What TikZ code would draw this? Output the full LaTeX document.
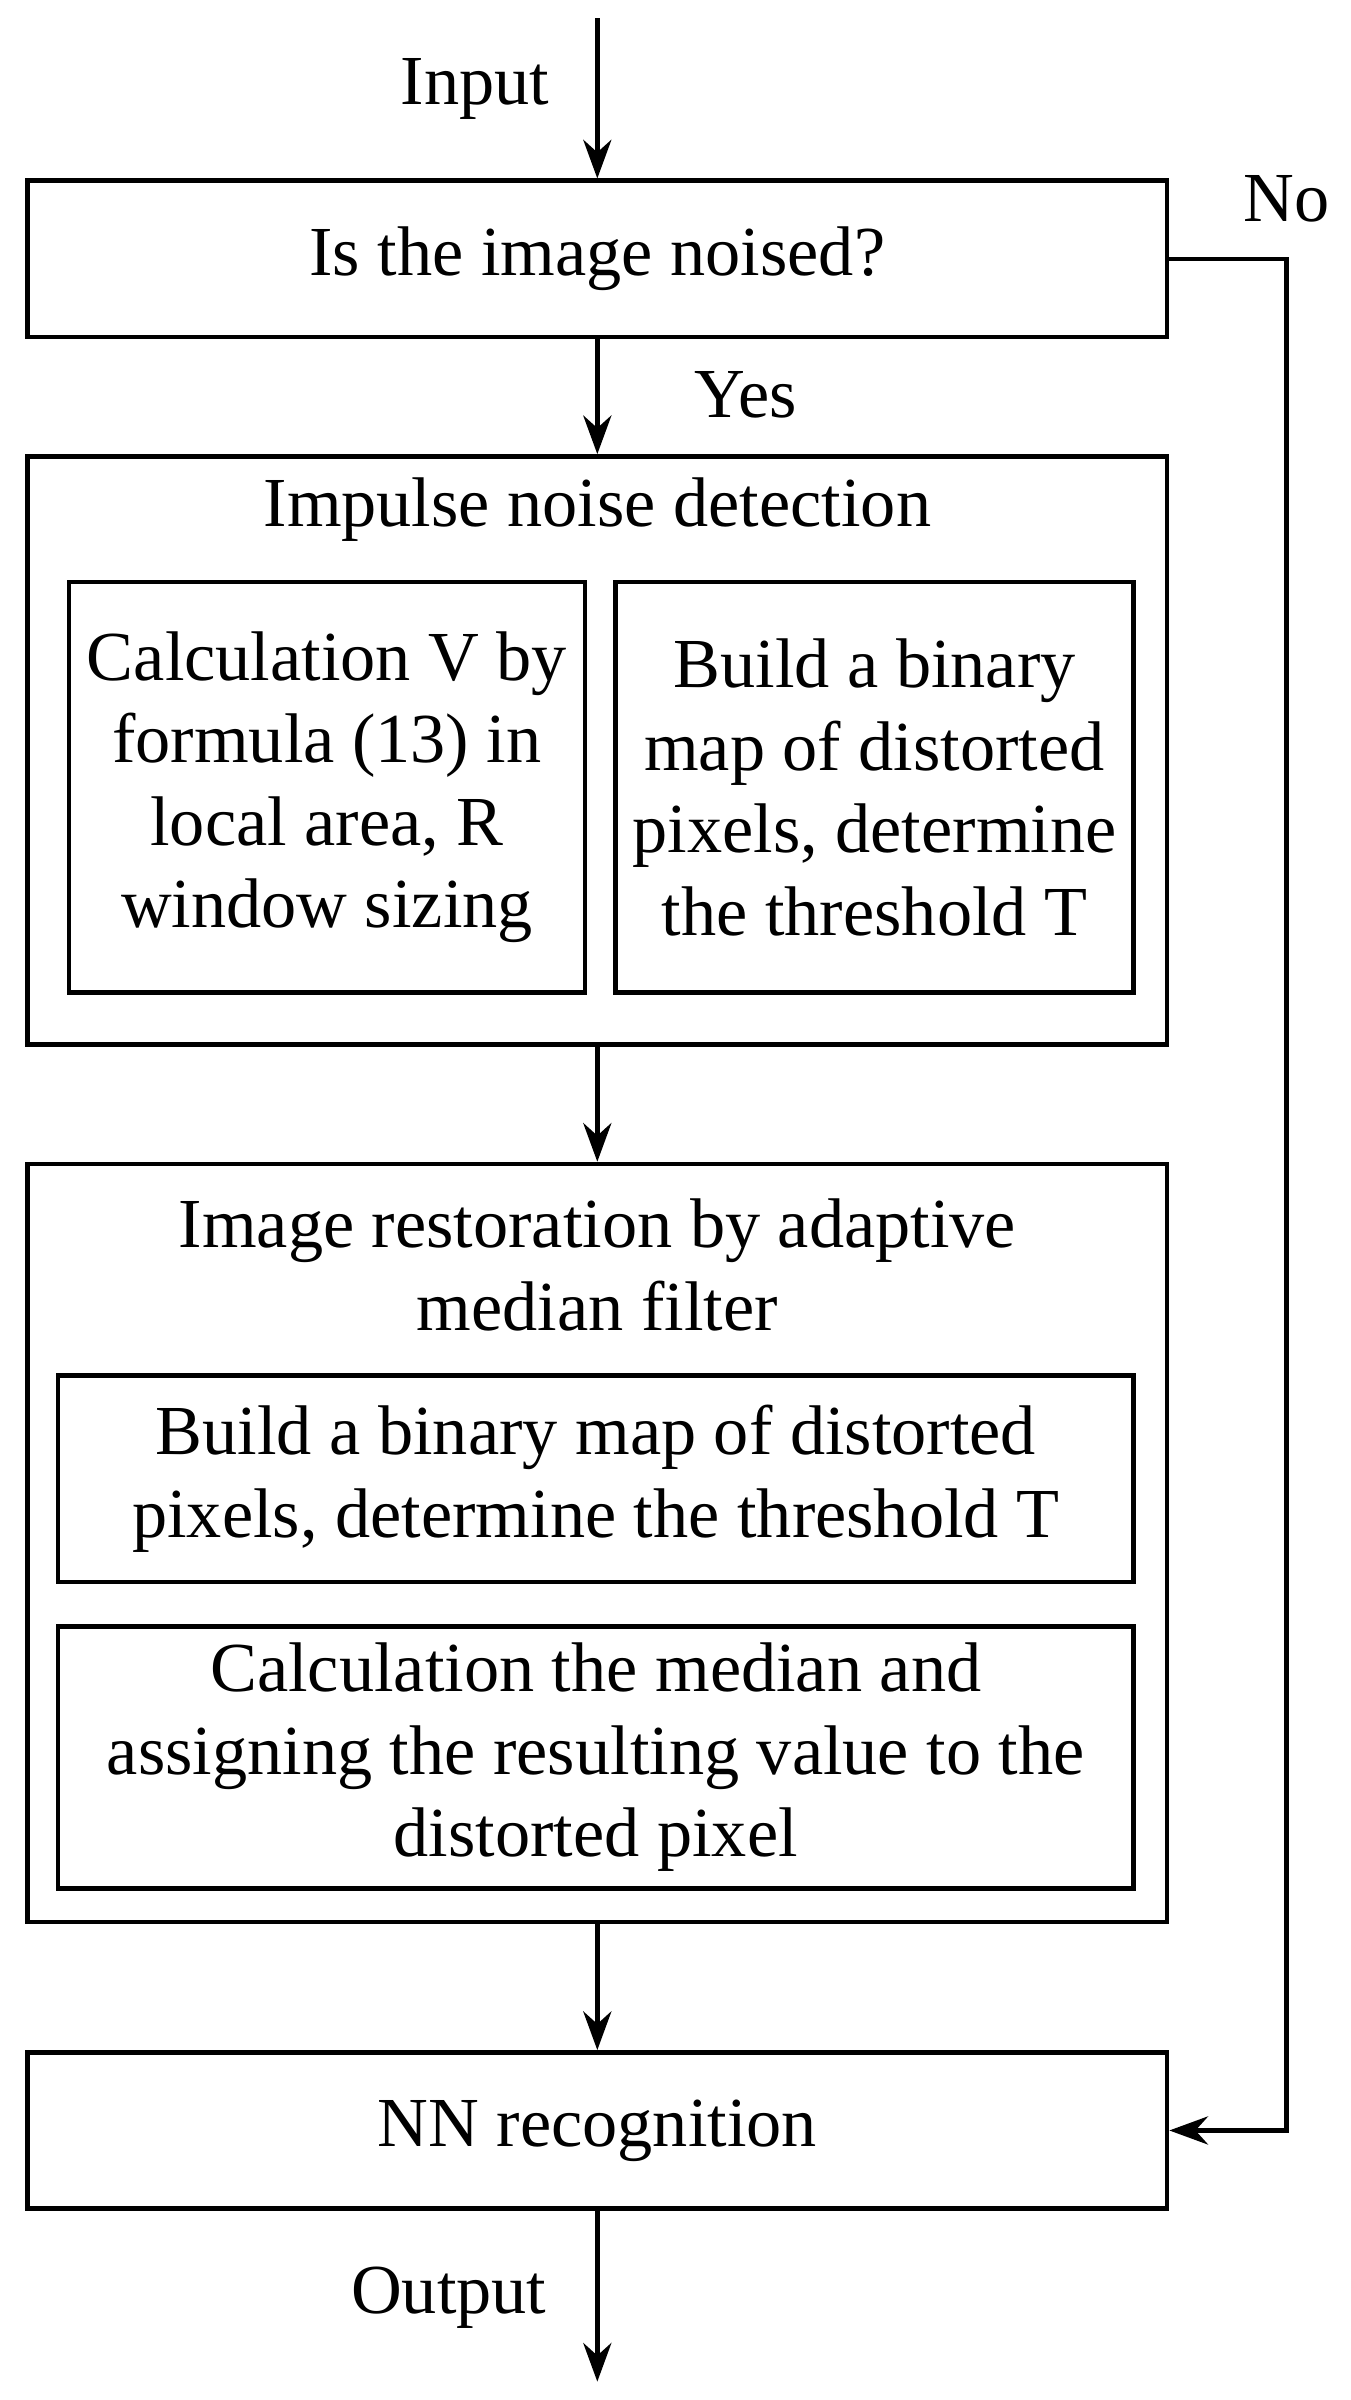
\documentclass[tikz,border=0pt]{standalone}
\usepackage{fontspec}
\setmainfont{Liberation Serif}
\usetikzlibrary{arrows.meta}
\tikzset{
  box/.style={draw, line width=1.3pt, inner sep=0pt},
  txt/.style={font=\fontsize{20pt}{23.5pt}\selectfont, align=center},
  flow/.style={-{Stealth[length=11pt,width=8pt]}, line width=1.3pt}
}
\begin{document}
\begin{tikzpicture}[x=0.01532cm, y=-0.01532cm]
  \useasboundingbox (0,0) rectangle (882,1567);
  % boxes
  \node[box, minimum width=744*0.01532cm, minimum height=102*0.01532cm] (noised) at (390,169) {};
  \node[txt] at (noised) {Is the image noised?};
  \node[box, minimum width=744*0.01532cm, minimum height=384*0.01532cm] (detect) at (390,490) {};
  \node[txt] (detectT) at (390,333) {Impulse noise detection};
  \node[box, minimum width=337*0.01532cm, minimum height=268*0.01532cm] (calcV) at (213.5,514) {};
  \node[txt] at (calcV) {Calculation V by\\formula (13) in\\local area, R\\window sizing};
  \node[box, minimum width=338*0.01532cm, minimum height=268*0.01532cm] (mapA) at (571,514) {};
  \node[txt] at (mapA) {Build a binary\\map of distorted\\pixels, determine\\the threshold T};
  \node[box, minimum width=744*0.01532cm, minimum height=495*0.01532cm] (restore) at (390,1007.5) {};
  \node[txt] (restoreT) at (390,826) {Image restoration by adaptive\\median filter};
  \node[box, minimum width=702*0.01532cm, minimum height=135*0.01532cm] (mapB) at (389,965.5) {};
  \node[txt] at (mapB) {Build a binary map of distorted\\pixels, determine the threshold T};
  \node[box, minimum width=702*0.01532cm, minimum height=171*0.01532cm] (median) at (389,1147.5) {};
  \node[txt] at (median) {Calculation the median and\\assigning the resulting value to the\\distorted pixel};
  \node[box, minimum width=744*0.01532cm, minimum height=102*0.01532cm] (nn) at (390,1391) {};
  \node[txt] at (nn) {NN recognition};
  % labels
  \coordinate (in) at (390,12);
  \coordinate (out) at (390,1555);
  \coordinate (turnA) at (840,169);
  \coordinate (turnB) at (840,1391);
  \node[txt] at (310,58) {Input};
  \node[txt] at (487,258) {Yes};
  \node[txt] at (840,130) {No};
  \node[txt] at (293,1500) {Output};
  % connectors
  \draw[flow] (in) -- (noised.north);
  \draw[flow] (noised.south) -- (detect.north);
  \draw[flow] (detect.south) -- (restore.north);
  \draw[flow] (restore.south) -- (nn.north);
  \draw[flow] (nn.south) -- (out);
  \draw[flow] (noised.east) -- (turnA) -- (turnB) -- (nn.east);
\end{tikzpicture}
\end{document}
